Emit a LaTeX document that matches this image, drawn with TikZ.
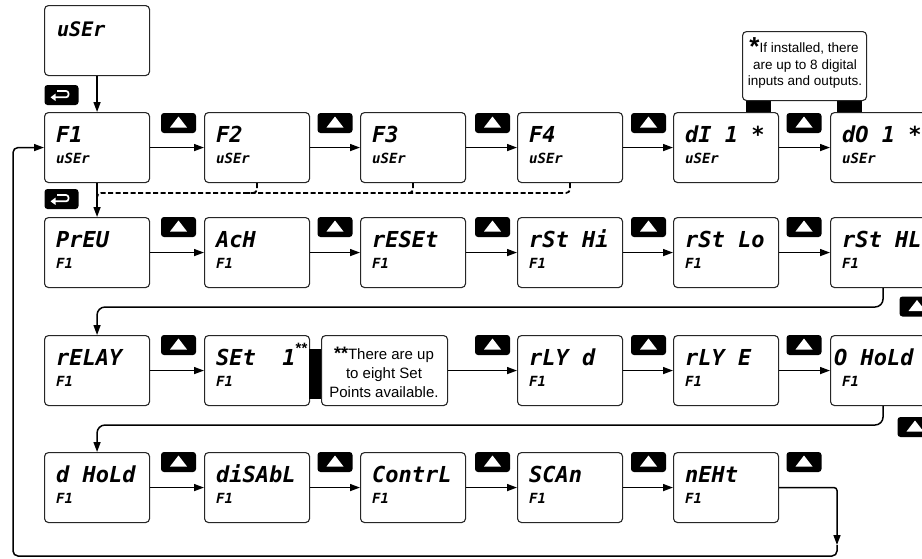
\documentclass[tikz,border=0pt]{standalone}
\usepackage{fontspec}
\setmainfont{Liberation Sans}
\newfontfamily\seg{DejaVu Sans Mono Bold Oblique}
\usetikzlibrary{arrows.meta}
\tikzset{
  box/.style={draw=black!85, line width=1.1pt, rounded corners=4pt, minimum width=105pt, minimum height=70pt, anchor=north west, inner sep=0pt, fill=white},
  big/.style={font=\seg\fontsize{22}{22}\selectfont, inner sep=0pt, anchor=base west},
  small/.style={font=\seg\fontsize{14}{14}\selectfont, inner sep=0pt, anchor=base west},
  mid/.style={font=\seg\fontsize{20}{20}\selectfont, inner sep=0pt, anchor=base west},
  arr/.style={line width=1.5pt, -{Triangle[length=10pt,width=7pt]}},
  dsh/.style={line width=1.7pt, dash pattern=on 5pt off 2.5pt},
  upbtn/.style={fill=black, rounded corners=3pt, minimum width=35pt, minimum height=20pt, inner sep=0pt,
    path picture={\fill[white, sharp corners] ([xshift=-8.5pt,yshift=-4.5pt]path picture bounding box.center) -- ([xshift=8.5pt,yshift=-4.5pt]path picture bounding box.center) -- ([yshift=6.5pt]path picture bounding box.center) -- cycle;}},
  entbtn/.style={fill=black, rounded corners=3pt, minimum width=34pt, minimum height=20pt, inner sep=0pt,
    path picture={\draw[white, line width=1.7pt, rounded corners=2.5pt, -{Triangle[length=5pt,width=7pt]}] ([xshift=-4.5pt,yshift=4pt]path picture bounding box.center) -- ([xshift=7pt,yshift=4pt]path picture bounding box.center) -- ([xshift=7pt,yshift=-2.3pt]path picture bounding box.center) -- ([xshift=-11pt,yshift=-2.3pt]path picture bounding box.center);}},
  callout/.style={draw=black!85, line width=1.1pt, rounded corners=4pt, anchor=north west, inner sep=0pt, fill=white},
  tab/.style={fill=black, anchor=north west, inner sep=0pt},
  note/.style={font=\fontsize{13.5}{13.5}\selectfont, inner sep=0pt, anchor=base},
  noteb/.style={font=\fontsize{15}{15}\selectfont, inner sep=0pt, anchor=base}
}
\newcommand\dispbox[6][12pt]{%
  \node[box] (#2) at (#3,#4) {};
  \node[big] (#2a) at ([xshift=#1,yshift=-30pt]#2.north west) {#5};
  \node[small] (#2b) at ([xshift=12pt,yshift=-51pt]#2.north west) {#6};
}
\begin{document}
\begin{tikzpicture}[x=1pt,y=-1pt]
\useasboundingbox (0,0) rectangle (922,558);
\clip (0,0) rectangle (922,558);

% top box
\node[box] (top) at (44,5) {};
\node[mid] (topa) at ([xshift=13pt,yshift=-31pt]top.north west) {uSEr};

% row 1
\dispbox{r1c1}{44}{112}{F1}{uSEr}
\dispbox{r1c2}{204}{112}{F2}{uSEr}
\dispbox{r1c3}{360}{112}{F3}{uSEr}
\dispbox{r1c4}{517}{112}{F4}{uSEr}
\dispbox{r1c5}{673}{112}{dI 1 *}{uSEr}
\dispbox{r1c6}{830}{112}{dO 1 *}{uSEr}

% row 2
\dispbox{r2c1}{44}{217}{PrEU}{F1}
\dispbox{r2c2}{204}{217}{AcH}{F1}
\dispbox{r2c3}{360}{217}{rESEt}{F1}
\dispbox{r2c4}{517}{217}{rSt Hi}{F1}
\dispbox{r2c5}{673}{217}{rSt Lo}{F1}
\dispbox{r2c6}{830}{217}{rSt HL}{F1}

% row 3
\dispbox{r3c1}{44}{335}{rELAY}{F1}
\dispbox{r3c2}{204}{335}{SEt~~1\raisebox{12pt}{\fontspec{Liberation Sans Bold}\fontsize{15}{15}\selectfont **}}{F1}
\dispbox{r3c4}{517}{335}{rLY d}{F1}
\dispbox{r3c5}{673}{335}{rLY E}{F1}
\dispbox[4pt]{r3c6}{830}{335}{O HoLd}{F1}

% row 4
\dispbox{r4c1}{44}{452}{d HoLd}{F1}
\dispbox{r4c2}{204}{452}{diSAbL}{F1}
\dispbox{r4c3}{360}{452}{ContrL}{F1}
\dispbox{r4c4}{517}{452}{SCAn}{F1}
\dispbox{r4c5}{673}{452}{nEHt}{F1}

% callout 1
\node[tab, minimum width=25pt, minimum height=12pt] (ta1) at (746,100) {};
\node[tab, minimum width=25pt, minimum height=12pt] (ta2) at (837,100) {};
\node[callout, minimum width=124pt, minimum height=69pt] (ca) at (742,31) {};
\node[note] (ca1) at (804,52.3) {{\bfseries\fontsize{26}{26}\selectfont\raisebox{-3pt}{*}}If installed, there};
\node[note] (ca2) at (805,69) {are up to 8 digital};
\node[note] (ca3) at (805,85.8) {inputs and outputs.};

% callout 2
\node[tab, minimum width=12pt, minimum height=50pt] (bar) at (309,349) {};
\node[callout, minimum width=126pt, minimum height=70pt] (cb) at (321,335) {};
\node[noteb] (cb1) at (384,359.5) {{\bfseries\fontsize{18}{18}\selectfont **}There are up};
\node[noteb] (cb2) at (384,378) {to eight Set};
\node[noteb] (cb3) at (384,397) {Points available.};

% enter buttons
\node[entbtn] (e1) at (61.5,95) {};
\node[entbtn] (e2) at (61.5,199) {};

% up buttons
\foreach \r/\y in {1/123, 2/227, 4/462} {
  \foreach \c/\x in {1/178.5, 2/335, 3/492.5, 4/648.5, 5/804} {
    \node[upbtn] (u\r\c) at (\x,\y) {};
  }
}
\node[upbtn] (u31) at (178.5,345) {};
\node[upbtn] (u33) at (492.5,345) {};
\node[upbtn] (u34) at (648.5,345) {};
\node[upbtn] (u35) at (804,345) {};
\node[upbtn] (ur1) at (917,306.5) {};
\node[upbtn] (ur2) at (915,427) {};

% vertical arrows
\draw[arr] (top.south) -- (r1c1.north);
\draw[arr] (r1c1.south) -- (r2c1.north);

% horizontal arrows
\foreach \r in {1,2} {
  \foreach \a/\b in {1/2, 2/3, 3/4, 4/5, 5/6} {
    \draw[arr] (r\r c\a.east) -- (r\r c\b.west);
  }
}
\foreach \a/\b in {1/2, 2/3, 3/4, 4/5} {
  \draw[arr] (r4c\a.east) -- (r4c\b.west);
}
\draw[arr] (r3c1.east) -- (r3c2.west);
\draw[arr] (cb.east) -- (r3c4.west);
\draw[arr] (r3c4.east) -- (r3c5.west);
\draw[arr] (r3c5.east) -- (r3c6.west);

% dashed returns
\coordinate (hy) at (0,193);
\coordinate (dj) at (r1c1.south |- hy);
\draw[dsh, rounded corners=4pt] (r1c4.south) |- (dj) -- ++(0,8);
\draw[dsh, rounded corners=4pt] (r1c3.south) |- ([xshift=-10pt]r1c3.south |- hy);
\draw[dsh, rounded corners=4pt] (r1c2.south) |- ([xshift=-10pt]r1c2.south |- hy);

% row transitions
\coordinate (h23) at (0,307);
\draw[arr, rounded corners=8pt] (r2c6.south) -- (r2c6.south |- h23) -- (r3c1.north |- h23) -- (r3c1.north);
\coordinate (h34) at (0,425);
\draw[arr, rounded corners=8pt] (r3c6.south) -- (r3c6.south |- h34) -- (r4c1.north |- h34) -- (r4c1.north);

% loop back
\coordinate (lp1) at (837,545);
\coordinate (lp2) at (837,556);
\coordinate (lp3) at (13,556);
\draw[arr, rounded corners=3pt] (r4c5.east) -| (lp1);
\draw[arr, rounded corners=5pt] (lp1) -- (lp2) -- (lp3) -- (lp3 |- r1c1.west) -- (r1c1.west);
\end{tikzpicture}
\end{document}
